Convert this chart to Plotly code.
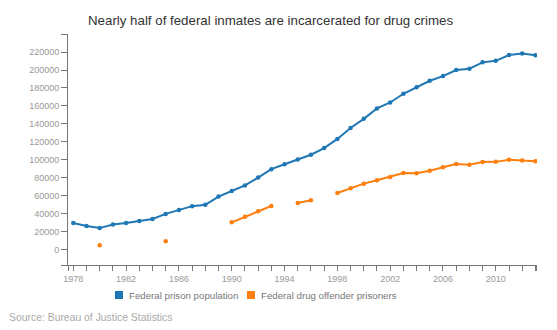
import plotly.graph_objects as go

# ---- data ----
years = list(range(1978, 2014))
federal_population = [
    30000, 26700, 24300, 28300, 29900, 32100, 34400, 40100, 44400, 48700,
    50200, 59300, 65500, 71700, 80500, 89800, 95200, 100500, 105800, 113200,
    123400, 135600, 145700, 157300, 163900, 173600, 180800, 188000, 193200, 200000,
    201500, 208500, 210200, 216700, 218200, 216300,
]
drug_offenders = [
    None, None, 5200, None, None, None, None, 9600, None, None,
    None, None, 30700, 37000, 43000, 48900, None, 52200, 55200, None,
    63300, 68500, 73700, 77400, 81100, 85600, 85300, 88100, 91900, 95600,
    94600, 97800, 97900, 100300, 99300, 98700,
]
series_names = ["Federal prison population", "Federal drug offender prisoners"]
colors = ["#1f77b4", "#ff7f0e"]
y_tick_values = list(range(0, 220001, 20000))
x_label_years = list(range(1978, 2011, 4))

title_text = "Nearly half of federal inmates are incarcerated for drug crimes"
source_text = "Source: Bureau of Justice Statistics"

# ---- layout geometry ----
W, H = 557, 330
L, R, T, B = 68, 20, 34, 65
PW, PH = W - L - R, H - T - B
x_range = [1977.6, 2013.12]
y_range = [-16700, 240000]


def px(x):
    return (x - L) / PW


def py(y):
    return (H - B - y) / PH


FONT = "Liberation Sans, Arial, sans-serif"

fig = go.Figure()
for vals, color, name in zip([federal_population, drug_offenders], colors, series_names):
    fig.add_trace(go.Scatter(
        x=years, y=vals, mode="lines+markers", name=name,
        line=dict(color=color, width=2),
        marker=dict(color=color, size=4.5),
        connectgaps=False, showlegend=False,
    ))

x_tickvals = [x_range[0] + 0.001] + years + [x_range[1] - 0.001]
x_ticktext = [""] + [str(y) if y in x_label_years else "" for y in years] + [""]
y_tickvals = [y_range[0] + 1] + y_tick_values + [y_range[1] - 1]
y_ticktext = [""] + [str(v) for v in y_tick_values] + [""]

fig.update_layout(
    width=W, height=H,
    margin=dict(l=L, r=R, t=T, b=B, pad=0),
    plot_bgcolor="white", paper_bgcolor="white",
    font=dict(family=FONT, color="#999"),
    xaxis=dict(
        range=x_range, tickmode="array", tickvals=x_tickvals, ticktext=x_ticktext,
        showgrid=False, zeroline=False, showline=True, linecolor="#777", linewidth=1,
        ticks="outside", ticklen=5, tickcolor="#777", tickwidth=1,
        tickfont=dict(size=9, color="#999", family=FONT),
    ),
    yaxis=dict(
        range=y_range, tickmode="array", tickvals=y_tickvals, ticktext=y_ticktext,
        showgrid=False, zeroline=False, showline=True, linecolor="#777", linewidth=1,
        ticks="outside", ticklen=6, tickcolor="#777", tickwidth=1,
        tickfont=dict(size=9, color="#999", family=FONT),
    ),
    showlegend=False,
)

annotations = [
    dict(text=title_text, x=px(86), y=py(20.5), xref="paper", yref="paper",
         xanchor="left", yanchor="middle", showarrow=False,
         font=dict(size=13.3, color="#333", family=FONT)),
    dict(text=source_text, x=px(7), y=py(317), xref="paper", yref="paper",
         xanchor="left", yanchor="middle", showarrow=False,
         font=dict(size=10.4, color="#aaa", family=FONT)),
]
shapes = []
legend_square_x = [115, 247]
for sx, color, name in zip(legend_square_x, colors, series_names):
    shapes.append(dict(type="rect", xref="paper", yref="paper",
                       x0=px(sx), x1=px(sx + 8), y0=py(299), y1=py(291),
                       fillcolor=color, line=dict(width=0)))
    annotations.append(dict(text=name, x=px(sx + 12), y=py(295), xref="paper", yref="paper",
                            xanchor="left", yanchor="middle", showarrow=False,
                            font=dict(size=9.7, color="#777", family=FONT)))

fig.update_layout(annotations=annotations, shapes=shapes)
fig.write_html("out.html")
